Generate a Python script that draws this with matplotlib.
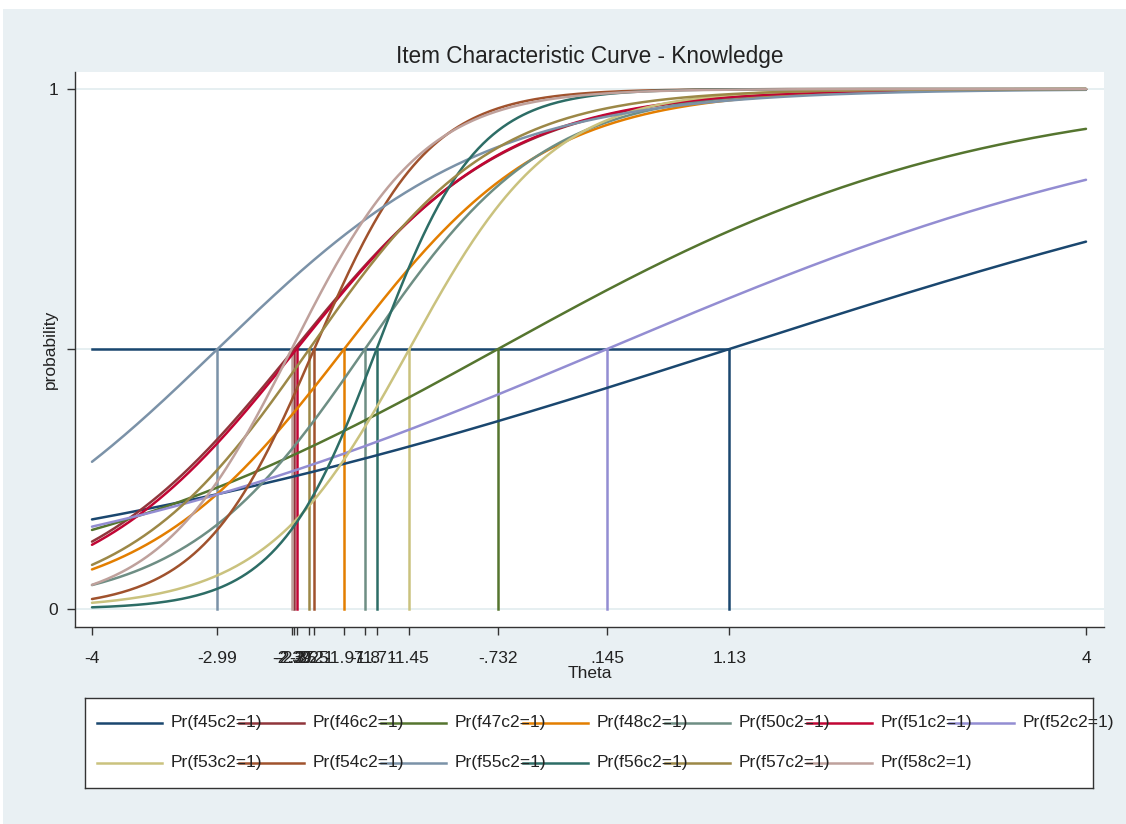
import numpy as np
import matplotlib
matplotlib.use("Agg")
import matplotlib.pyplot as plt
from matplotlib.patches import Rectangle

plt.rcParams['font.family'] = ['Liberation Sans', 'DejaVu Sans']

# item parameters (2PL: discrimination a, difficulty b)
items = ['f45c2', 'f46c2', 'f47c2', 'f48c2', 'f50c2', 'f51c2', 'f52c2',
         'f53c2', 'f54c2', 'f55c2', 'f56c2', 'f57c2', 'f58c2']
discrimination = [0.306, 1.17, 0.526, 1.23, 1.38, 1.19, 0.403,
                  1.73, 2.2, 0.92, 2.5, 1.36, 1.88]
difficulty = [1.13, -2.372, -0.732, -1.97, -1.803, -2.353, 0.145,
              -1.446, -2.211, -2.99, -1.709, -2.251, -2.393]
colors = ['#1a476f', '#90353b', '#55752f', '#e37e00', '#6e8e84', '#c10534', '#938dd2',
          '#cac27e', '#a0522d', '#7b92a8', '#2d6d66', '#9c8847', '#bfa19c']

xtick_vals = [-4, -2.99, -2.393, -2.372, -2.353, -2.251, -2.211,
              -1.97, -1.803, -1.709, -1.446, -0.732, 0.145, 1.13, 4]
xtick_labels = ['-4', '-2.99', '-2.39', '-2.37', '-2.35', '-2.25', '-2.21',
                '-1.97', '-1.8', '-1.71', '-1.45', '-.732', '.145', '1.13', '4']

W, H = 1126, 824
fig = plt.figure(figsize=(W / 100, H / 100), dpi=100, facecolor='white')
bg = '#e9f0f3'
fig.patches.append(Rectangle((3 / W, 0), 1, 1 - 9 / H, transform=fig.transFigure,
                             facecolor=bg, edgecolor='none', zorder=-10))

# plot region in pixels: x 75..1104, y 72..627
ax = fig.add_axes([75 / W, 1 - 627 / H, (1104 - 75) / W, (627 - 72) / H])
ax.set_facecolor('white')
ax.set_xlim(-4 - 17 / 124.25, 4 + 18 / 124.25)
ax.set_ylim(-18 / 520, 1 + 17 / 520)

for yv in [0, 0.5, 1]:
    ax.axhline(yv, color='#e2ecef', lw=1.2, zorder=1)

lw = 1.8
theta = np.linspace(-4, 4, 400)
# 0.5 reference line and droplines
ax.plot([-4, max(difficulty)], [0.5, 0.5], color=colors[0], lw=lw, zorder=2)
for a, b, c in zip(discrimination, difficulty, colors):
    ax.plot([b, b], [0, 0.5], color=c, lw=lw, zorder=2)
for name, a, b, c in zip(items, discrimination, difficulty, colors):
    p = 1 / (1 + np.exp(-a * (theta - b)))
    ax.plot(theta, p, color=c, lw=lw, zorder=3, solid_capstyle='round')

for s in ['top', 'right']:
    ax.spines[s].set_visible(False)
for s in ['left', 'bottom']:
    ax.spines[s].set_color('#333333')
    ax.spines[s].set_linewidth(1.0)

ax.set_xticks(xtick_vals)
ax.set_xticklabels(xtick_labels)
ax.set_yticks([0, 0.5, 1])
ax.set_yticklabels(['0', '', '1'])
ax.tick_params(axis='x', length=6, width=1, color='#333333', labelsize=12.5,
               labelcolor='#222222', pad=11)
ax.tick_params(axis='y', length=6, width=1, color='#333333', labelsize=12.5,
               labelcolor='#222222', pad=6)

ax.set_xlabel('Theta', fontsize=12.5, color='#222222')
ax.xaxis.set_label_coords(0.5, (627 - 674) / 555)
ax.xaxis.label.set_va('center')
ax.set_ylabel('probability', fontsize=12.5, color='#222222')
ax.yaxis.set_label_coords((50 - 75) / 1029, 0.5)
ax.yaxis.label.set_va('center')

fig.text(590 / W, 1 - 56 / H, 'Item Characteristic Curve - Knowledge',
         fontsize=16.3, color='#222222', ha='center', va='center')

# legend drawn Stata style: long keys, 7 columns, 142 px apart
lax = fig.add_axes([85 / W, 1 - 788 / H, (1093 - 85) / W, (788 - 698) / H])
lax.set_xlim(85, 1093)
lax.set_ylim(788, 698)
lax.set_facecolor('white')
lax.set_xticks([])
lax.set_yticks([])
for s in lax.spines.values():
    s.set_color('#333333')
    s.set_linewidth(1.0)
for i, (name, c) in enumerate(zip(items, colors)):
    row, col = divmod(i, 7)
    tx = 171 + 142 * col
    ty = 723 + 40 * row
    lax.plot([tx - 74, tx - 9], [ty, ty], color=c, lw=lw, clip_on=False, zorder=1)
    lax.text(tx, ty, 'Pr(%s=1)' % name, fontsize=12.5, color='#222222',
             ha='left', va='center', clip_on=False, zorder=2)

fig.savefig('out.png', dpi=100, facecolor='white')
